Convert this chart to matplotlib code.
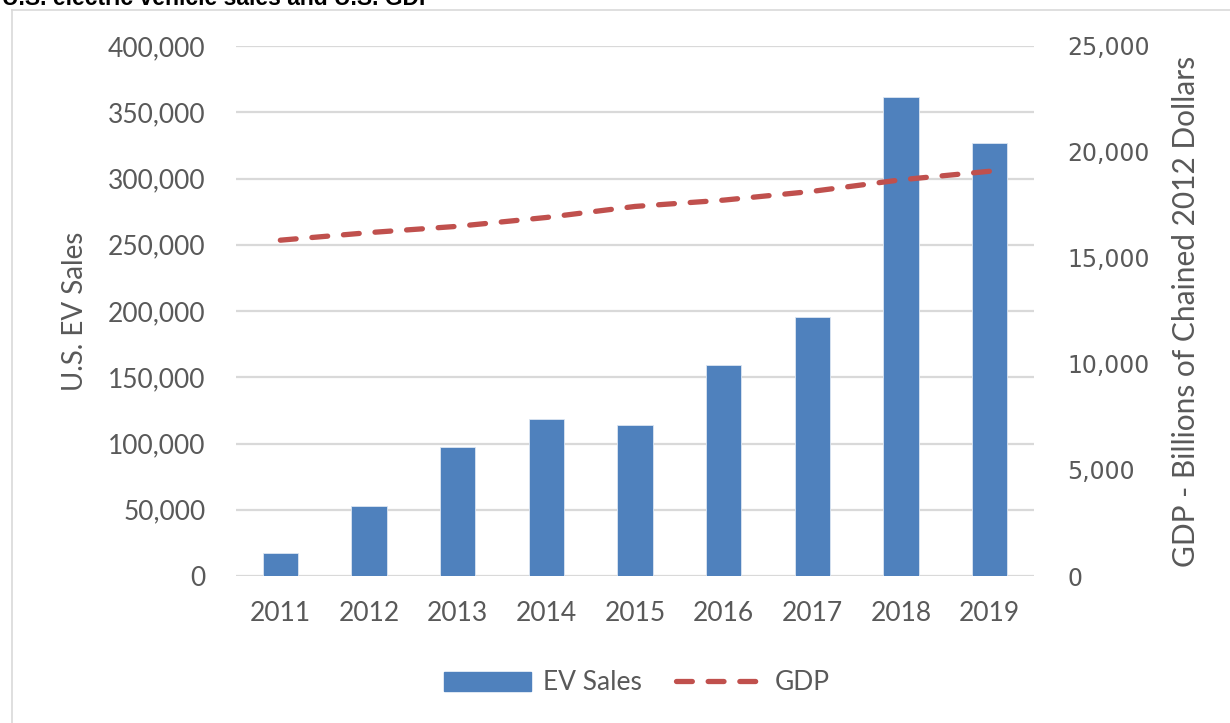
import numpy as np
import matplotlib
matplotlib.use('Agg')
import matplotlib.pyplot as plt
from matplotlib.lines import Line2D
from matplotlib.ticker import FuncFormatter

years = ['2011', '2012', '2013', '2014', '2015', '2016', '2017', '2018', '2019']
ev_sales = [17735, 53171, 97102, 118773, 114023, 159616, 195581, 361307, 326644]
gdp = [15840, 16197, 16495, 16912, 17432, 17730, 18144, 18688, 19092]

blue = '#4F81BD'
red = '#C0504D'
txt = '#595959'
grid = '#D9D9D9'

fig = plt.figure(figsize=(12.3, 7.23), dpi=100)
ax = fig.add_axes([236 / 1230, 1 - 576 / 723, (1034 - 236) / 1230, (576 - 46) / 723])
ax2 = ax.twinx()

x = np.arange(len(years))
ax.bar(x, ev_sales, width=0.4, color=blue, edgecolor='#DCE6F2', linewidth=0.6, zorder=3)
ax.set_xlim(-0.5, len(years) - 0.5)
ax.set_ylim(0, 400000)
ax.set_yticks(np.arange(0, 400001, 50000))
ax.yaxis.set_major_formatter(FuncFormatter(lambda v, p: f'{int(v):,}'))
ax.set_xticks(x)
ax.set_xticklabels(years)
ax.grid(axis='y', color=grid, linewidth=1.6, zorder=0)
ax.set_axisbelow(True)
for s in ax.spines.values():
    s.set_visible(False)
ax.tick_params(axis='both', length=0, labelsize=19, labelcolor=txt, labelfontfamily='Lato')
ax.tick_params(axis='y', pad=22)
ax.tick_params(axis='x', pad=18)
ax.set_ylabel('U.S. EV Sales', fontsize=20, color=txt, family='Lato', labelpad=14)

ax2.plot(x, gdp, color=red, linewidth=3.8, dashes=(3, 3), dash_capstyle='round', zorder=4)
ax2.set_ylim(0, 25000)
ax2.set_yticks(np.arange(0, 25001, 5000))
ax2.yaxis.set_major_formatter(FuncFormatter(lambda v, p: f'{int(v):,}'))
for s in ax2.spines.values():
    s.set_visible(False)
ax2.tick_params(axis='y', length=0, labelsize=17, labelcolor=txt, pad=24)
ax2.set_ylabel('GDP - Billions of Chained 2012 Dollars', fontsize=21.5, color=txt,
               family='Lato', labelpad=16)

handles = [plt.Rectangle((0, 0), 1, 1, color=blue),
           Line2D([0], [0], color=red, linewidth=3.8, dashes=(3, 3), dash_capstyle='round')]
fig.legend(handles, ['EV Sales', 'GDP'], loc='center', bbox_to_anchor=(637 / 1230, 1 - 683 / 723),
           ncol=2, frameon=False, prop={'family': 'Lato', 'size': 19}, labelcolor=txt,
           handlelength=3.3, handleheight=0.7, handletextpad=0.45, columnspacing=1.3)

# chart border (clipped by image edges) and cut-off title
fig.add_artist(Line2D([12 / 1230, 1], [1 - 10 / 723, 1 - 10 / 723], color=grid, linewidth=1.2))
fig.add_artist(Line2D([12 / 1230, 12 / 1230], [0, 1 - 10 / 723], color=grid, linewidth=1.2))
fig.text(0.002, 1 - 5 / 723, 'U.S. electric vehicle sales and U.S. GDP', fontsize=16.5,
         fontweight='bold', family='Liberation Sans', va='baseline', ha='left', color='black')

fig.savefig('out.png', dpi=100)
